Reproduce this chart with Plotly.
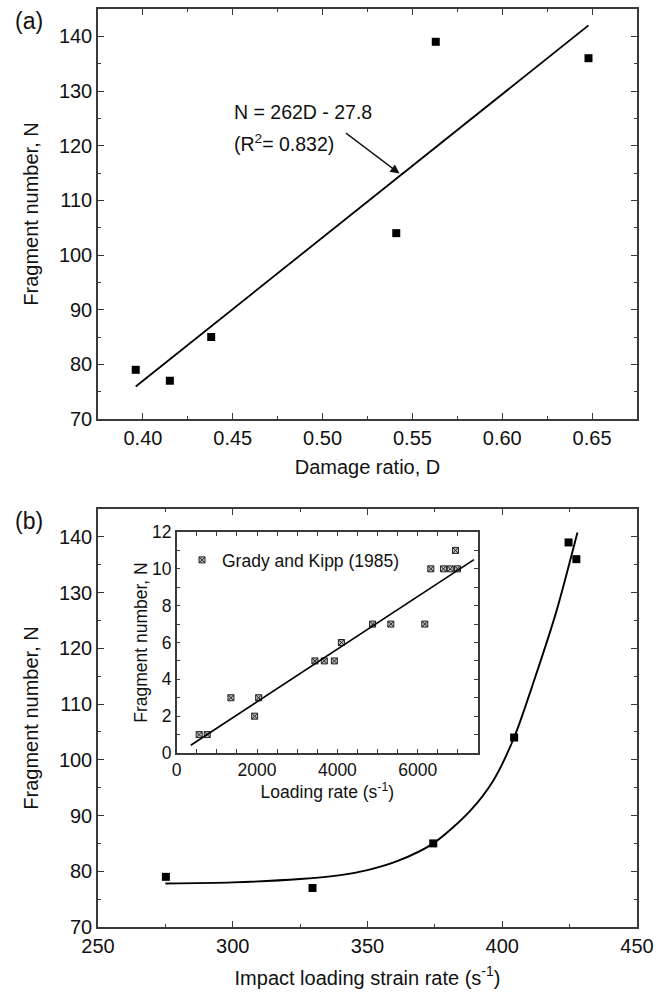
import plotly.graph_objects as go

# ---------------- data ----------------
# Panel (a): fragment number vs damage ratio
damage_ratio = [0.396, 0.415, 0.438, 0.541, 0.563, 0.648]
fragments_a = [79, 77, 85, 104, 139, 136]
fit_a_x = [0.396, 0.648]
fit_a_y = [75.95, 142.0]

# Panel (b): fragment number vs impact loading strain rate
strain_rate = [275.2, 329.6, 374.4, 404.4, 424.6, 427.5]
fragments_b = [79, 77, 85, 104, 139, 136]
curve_b_x = [275, 300, 325, 340, 350, 361, 374.4, 388, 396.7, 404.4, 412, 420, 427.9]
curve_b_y = [77.8, 78.0, 78.6, 79.3, 80.2, 81.8, 85.0, 90.8, 96.3, 104.0, 114.5, 126.5, 140.8]

# Inset: Grady and Kipp (1985)
gk_rate = [560, 760, 1350, 1940, 2040, 3440, 3675, 3925, 4100, 4875, 5330, 6175, 6325, 6640, 6810, 6940, 6990]
gk_frag = [1, 1, 3, 2, 3, 5, 5, 5, 6, 7, 7, 7, 10, 10, 10, 11, 10]
gk_fit_x = [350, 7400]
gk_fit_y = [0.42, 10.5]

FONT = "Liberation Sans, Arial, sans-serif"
AX = "#3a3a3a"
TXT = "#111111"
W, H = 656, 993

def px(v):
    return v / W

def py(v):
    return 1 - v / H

fig = go.Figure()

fig.add_trace(go.Scatter(x=damage_ratio, y=fragments_a, mode="markers",
                         marker=dict(symbol="square", size=8, color="black"),
                         xaxis="x", yaxis="y", showlegend=False))
fig.add_trace(go.Scatter(x=fit_a_x, y=fit_a_y, mode="lines",
                         line=dict(color="black", width=1.8),
                         xaxis="x", yaxis="y", showlegend=False))

fig.add_trace(go.Scatter(x=curve_b_x, y=curve_b_y, mode="lines",
                         line=dict(color="black", width=1.9, shape="spline", smoothing=0.8),
                         xaxis="x2", yaxis="y2", showlegend=False))
fig.add_trace(go.Scatter(x=strain_rate, y=fragments_b, mode="markers",
                         marker=dict(symbol="square", size=8, color="black"),
                         xaxis="x2", yaxis="y2", showlegend=False))

fig.add_trace(go.Scatter(x=gk_rate, y=gk_frag, mode="markers",
                         name="Grady and Kipp (1985)",
                         marker=dict(symbol="square-x", size=6, color="#bdbdbd",
                                     line=dict(color="#222222", width=1)),
                         xaxis="x3", yaxis="y3", showlegend=True))
fig.add_trace(go.Scatter(x=gk_fit_x, y=gk_fit_y, mode="lines",
                         line=dict(color="black", width=1.6),
                         xaxis="x3", yaxis="y3", showlegend=False))

def axis_style(size=20, ticklen=6):
    return dict(showline=True, linecolor=AX, linewidth=1.5, mirror="ticks",
                ticks="inside", ticklen=ticklen, tickwidth=1.3, tickcolor=AX,
                showgrid=False, zeroline=False, automargin=False,
                tickfont=dict(family=FONT, size=size, color=TXT),
                title_font=dict(family=FONT, size=size, color=TXT))

xd = [px(98), px(637)]

fig.update_layout(
    width=W, height=H,
    margin=dict(l=0, r=0, t=0, b=0, autoexpand=False),
    paper_bgcolor="white", plot_bgcolor="white",
    font=dict(family=FONT, color=TXT),
    xaxis=dict(domain=xd, anchor="y", range=[0.375, 0.675], tick0=0.4, dtick=0.05,
               tickformat=".2f",
               minor=dict(dtick=0.025, tick0=0.4, ticks="inside", ticklen=3, tickcolor=AX),
               title=dict(text="Damage ratio, D", standoff=12),
               **axis_style()),
    yaxis=dict(domain=[py(419), py(9)], anchor="x", range=[70, 145], dtick=10, tick0=70,
               minor=dict(dtick=5, tick0=70, ticks="inside", ticklen=3, tickcolor=AX),
               title=dict(text="Fragment number, N", standoff=15),
               **axis_style()),
    xaxis2=dict(domain=xd, anchor="y2", range=[250, 450], dtick=50, tick0=250,
                minor=dict(dtick=25, tick0=250, ticks="inside", ticklen=3, tickcolor=AX),
                title=dict(text="Impact loading strain rate (s<sup>-1</sup>)", standoff=15),
                **axis_style()),
    yaxis2=dict(domain=[py(927), py(509)], anchor="x2", range=[70, 145], dtick=10, tick0=70,
                minor=dict(dtick=5, tick0=70, ticks="inside", ticklen=3, tickcolor=AX),
                title=dict(text="Fragment number, N", standoff=15),
                **axis_style()),
    xaxis3=dict(domain=[px(176.7), px(478)], anchor="y3", range=[0, 7500], dtick=2000, tick0=0,
                minor=dict(dtick=500, tick0=0, ticks="inside", ticklen=4, tickcolor=AX),
                title=dict(text="Loading rate (s<sup>-1</sup>)", standoff=0),
                **axis_style(size=17.5, ticklen=4)),
    yaxis3=dict(domain=[py(753), py(532)], anchor="x3", range=[0, 12], dtick=2, tick0=0,
                minor=dict(dtick=1, tick0=0, ticks="inside", ticklen=4, tickcolor=AX),
                title=dict(text="Fragment number, N", standoff=0),
                **axis_style(size=17.5, ticklen=4)),
    legend=dict(x=px(182), y=py(560), xanchor="left", yanchor="middle",
                bgcolor="rgba(0,0,0,0)", borderwidth=0,
                font=dict(family=FONT, size=17.5, color=TXT),
                itemwidth=30, tracegroupgap=0),
    annotations=[
        dict(text="(a)", x=px(13), y=py(21), xref="paper", yref="paper",
             xanchor="left", yanchor="middle", showarrow=False,
             font=dict(family=FONT, size=23, color=TXT)),
        dict(text="(b)", x=px(13), y=py(521), xref="paper", yref="paper",
             xanchor="left", yanchor="middle", showarrow=False,
             font=dict(family=FONT, size=23, color=TXT)),
        dict(text="N = 262D - 27.8", x=0.4495, y=126.2, xref="x", yref="y",
             xanchor="left", yanchor="middle", showarrow=False,
             font=dict(family=FONT, size=19.5, color=TXT)),
        dict(text="(R<sup>2</sup>= 0.832)", x=0.4495, y=120.4, xref="x", yref="y",
             xanchor="left", yanchor="middle", showarrow=False,
             font=dict(family=FONT, size=19.5, color=TXT)),
        dict(text="", x=0.5428, y=114.9, xref="x", yref="y",
             ax=0.5122, ay=122.5, axref="x", ayref="y",
             showarrow=True, arrowhead=2, arrowsize=1.4, arrowwidth=1.3, arrowcolor=TXT,
             standoff=0),
    ],
)

fig.write_html("out.html")
